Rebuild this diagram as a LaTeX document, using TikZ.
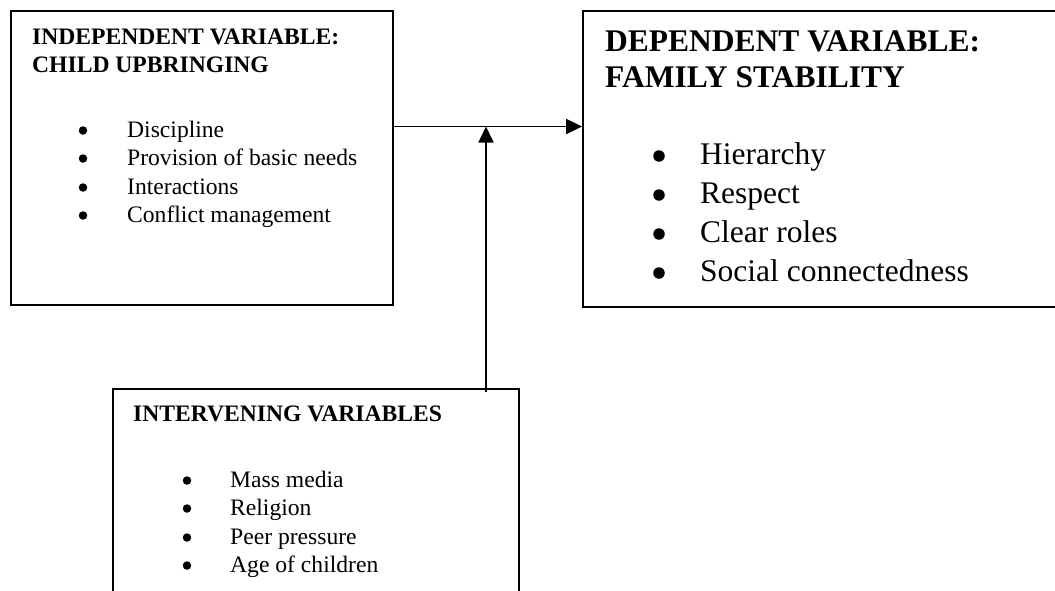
\documentclass[tikz,border=0pt]{standalone}
\usepackage{fontspec}
\setmainfont{Liberation Serif}
\usepackage{pgf,tikz}
\usetikzlibrary{arrows.meta}

\tikzset{
  varbox/.style={draw,line width=1.8pt,rectangle,inner sep=0pt},
  small/.style={font=\fontsize{23.6}{28}\selectfont,inner sep=0pt},
  big/.style={font=\fontsize{31.5}{36}\selectfont,inner sep=0pt},
  dot/.style={circle,fill,inner sep=0pt,minimum size=8.5pt},
  bigdot/.style={circle,fill,inner sep=0pt,minimum size=11.5pt},
}

\begin{document}
\begin{tikzpicture}[line join=miter,>={Triangle[length=16pt,width=15pt]},x=1pt,y=-1pt]
\clip (0,0) rectangle (1055,590);
\fill[white] (0,0) rectangle (1055,590);
% boxes
\node[varbox,minimum width=382pt,minimum height=294pt] (indep) at (202,158) {};
\node[varbox,minimum width=492pt,minimum height=296pt] (dep) at (829,159) {};
\node[varbox,minimum width=406pt,minimum height=221pt] (interv) at (316,499.5) {};
% independent variable
\node[small,anchor=base west] (indepA) at (32,44) {\textbf{INDEPENDENT VARIABLE:}};
\node[small,anchor=base west] (indepB) at (32,72) {\textbf{CHILD UPBRINGING}};
\node[dot] (indepD1) at (83,130.5) {};
\node[small,anchor=base west] (indepI1) at (127,137) {Discipline};
\node[dot] (indepD2) at (83,158.5) {};
\node[small,anchor=base west] (indepI2) at (127,165) {Provision of basic needs};
\node[dot] (indepD3) at (83,187.5) {};
\node[small,anchor=base west] (indepI3) at (127,194) {Interactions};
\node[dot] (indepD4) at (83,215.5) {};
\node[small,anchor=base west] (indepI4) at (127,222) {Conflict management};
% dependent variable
\node[big,anchor=base west] (depA) at (605,51) {\textbf{DEPENDENT VARIABLE:}};
\node[big,anchor=base west] (depB) at (605,87) {\textbf{FAMILY STABILITY}};
\node[bigdot] (depD1) at (659,156) {};
\node[big,anchor=base west] (depI1) at (700,164) {Hierarchy};
\node[bigdot] (depD2) at (659,195) {};
\node[big,anchor=base west] (depI2) at (700,203) {Respect};
\node[bigdot] (depD3) at (659,234) {};
\node[big,anchor=base west] (depI3) at (700,242) {Clear roles};
\node[bigdot] (depD4) at (659,273) {};
\node[big,anchor=base west] (depI4) at (700,281) {Social connectedness};
% intervening variables
\node[small,anchor=base west] (intervA) at (133,421) {\textbf{INTERVENING VARIABLES}};
\node[dot] (intervD1) at (187,480.5) {};
\node[small,anchor=base west] (intervI1) at (230,487) {Mass media};
\node[dot] (intervD2) at (187,508.5) {};
\node[small,anchor=base west] (intervI2) at (230,515) {Religion};
\node[dot] (intervD3) at (187,537.5) {};
\node[small,anchor=base west] (intervI3) at (230,544) {Peer pressure};
\node[dot] (intervD4) at (187,565.5) {};
\node[small,anchor=base west] (intervI4) at (230,572) {Age of children};
% arrows
\coordinate (meet) at (486,126.5);
\draw [->,line width=1.8pt] (indep.east |- meet) -- (dep.west |- meet);
\draw [->,line width=1.8pt] ([yshift=-4pt]interv.north -| meet) -- (meet);
\end{tikzpicture}
\end{document}
